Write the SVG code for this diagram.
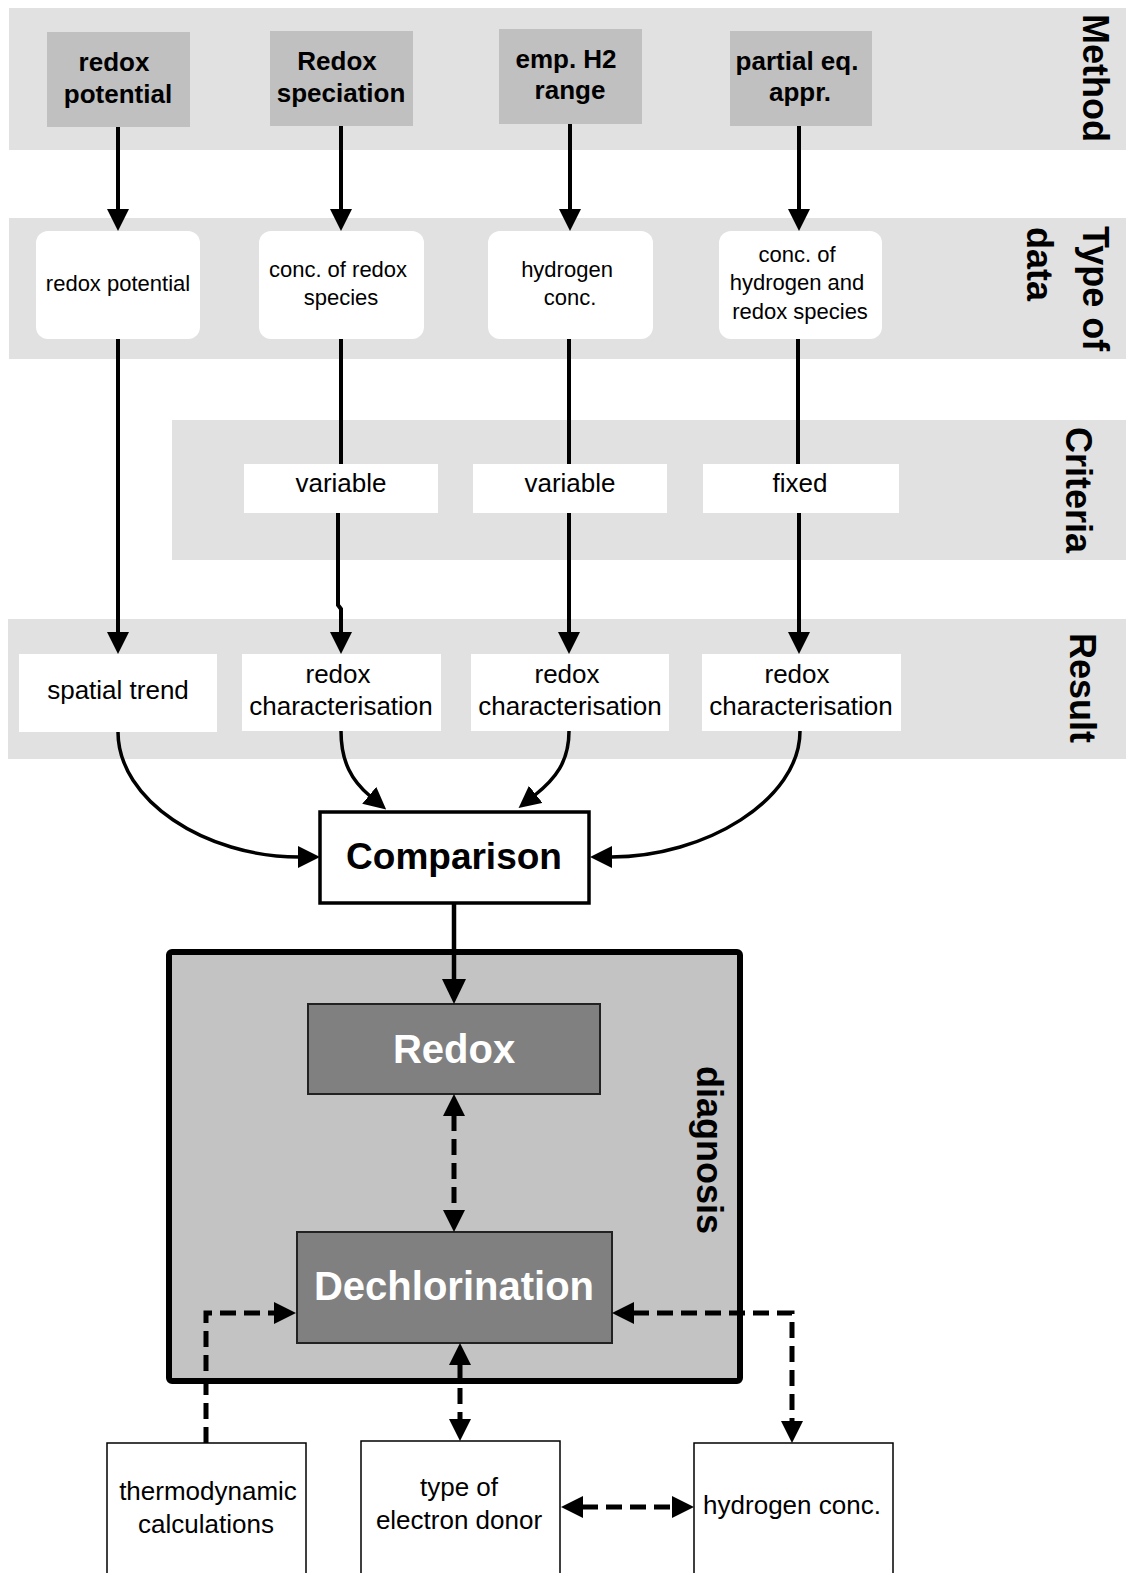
<svg xmlns="http://www.w3.org/2000/svg" width="1126" height="1573" viewBox="0 0 1126 1573">
<defs>
<style>
.band{fill:#e1e1e1}
.mbox{fill:#c0c0c0}
.wbox{fill:#fff}
.t{font-family:"Liberation Sans",Arial,sans-serif;fill:#000;text-anchor:middle}
.b{font-weight:bold}
.m{font-size:26px;font-weight:bold}
.s22{font-size:22px}
.s26{font-size:26px}
.lab{font-size:36px;font-weight:bold}
.line{stroke:#000;stroke-width:4;fill:none;marker-end:url(#ah)}
.plain{stroke:#000;stroke-width:4;fill:none}
.curve{stroke:#000;stroke-width:3.5;fill:none;marker-end:url(#ah)}
.dash{stroke:#000;stroke-width:5;fill:none;stroke-dasharray:16 8}
</style>
<marker id="ah" viewBox="0 0 22 22" refX="1" refY="11" markerWidth="22" markerHeight="22" markerUnits="userSpaceOnUse" orient="auto-start-reverse"><path d="M0,0 L22,11 L0,22 z" fill="#000"/></marker>
<marker id="ahL" viewBox="0 0 25 24" refX="1" refY="12" markerWidth="25" markerHeight="24" markerUnits="userSpaceOnUse" orient="auto-start-reverse"><path d="M0,0 L25,12 L0,24 z" fill="#000"/></marker>
</defs>
<rect width="1126" height="1573" fill="#fff"/>
<g id="bands">
<rect class="band" x="9" y="8" width="1117" height="142"/>
<rect class="band" x="9" y="218" width="1117" height="141"/>
<rect class="band" x="172" y="420" width="954" height="140"/>
<rect class="band" x="8" y="619" width="1118" height="140"/>
<text class="t lab" transform="translate(1083,78) rotate(90)">Method</text>
<text class="t lab" style="text-anchor:start" transform="translate(1083,226) rotate(90)">Type of</text>
<text class="t lab" style="text-anchor:start" transform="translate(1027,227) rotate(90)">data</text>
<text class="t lab" transform="translate(1066,490) rotate(90)">Criteria</text>
<text class="t lab" transform="translate(1070,688) rotate(90)">Result</text>
</g>
<g id="diagnosis">
<rect x="169" y="952" width="571" height="429" rx="3" fill="#c3c3c3" stroke="#000" stroke-width="6"/>
<text class="t lab" transform="translate(697,1150) rotate(90)">diagnosis</text>
</g>
<g id="m1"><rect class="mbox" x="47" y="32" width="143" height="95"/><text class="t m" x="114" y="71">redox</text><text class="t m" x="118" y="103">potential</text></g>
<g id="m2"><rect class="mbox" x="270" y="31" width="143" height="95"/><text class="t m" x="337" y="70">Redox</text><text class="t m" x="341" y="102">speciation</text></g>
<g id="m3"><rect class="mbox" x="499" y="29" width="143" height="95"/><text class="t m" x="566" y="68">emp. H2</text><text class="t m" x="570" y="99">range</text></g>
<g id="m4"><rect class="mbox" x="730" y="31" width="142" height="95"/><text class="t m" x="797" y="70">partial eq.</text><text class="t m" x="800" y="101">appr.</text></g>
<g id="d1"><rect class="wbox" x="36" y="231" width="164" height="108" rx="12"/><text class="t s22" x="118" y="291">redox potential</text></g>
<g id="d2"><rect class="wbox" x="259" y="231" width="165" height="108" rx="12"/><text class="t s22" x="338" y="277">conc. of redox</text><text class="t s22" x="341" y="305">species</text></g>
<g id="d3"><rect class="wbox" x="488" y="231" width="165" height="108" rx="12"/><text class="t s22" x="567" y="277">hydrogen</text><text class="t s22" x="570" y="305">conc.</text></g>
<g id="d4"><rect class="wbox" x="719" y="231" width="163" height="108" rx="12"/><text class="t s22" x="797" y="262">conc. of</text><text class="t s22" x="797" y="290">hydrogen and</text><text class="t s22" x="800" y="319">redox species</text></g>
<g id="c1"><rect class="wbox" x="244" y="464" width="194" height="49"/><text class="t s26" x="341" y="492">variable</text></g>
<g id="c2"><rect class="wbox" x="473" y="464" width="194" height="49"/><text class="t s26" x="570" y="492">variable</text></g>
<g id="c3"><rect class="wbox" x="703" y="464" width="196" height="49"/><text class="t s26" x="800" y="492">fixed</text></g>
<g id="r1"><rect class="wbox" x="19" y="654" width="198" height="78"/><text class="t s26" x="118" y="699">spatial trend</text></g>
<g id="r2"><rect class="wbox" x="242" y="654" width="199" height="77"/><text class="t s26" x="338" y="683">redox</text><text class="t s26" x="341" y="715">characterisation</text></g>
<g id="r3"><rect class="wbox" x="471" y="654" width="198" height="77"/><text class="t s26" x="567" y="683">redox</text><text class="t s26" x="570" y="715">characterisation</text></g>
<g id="r4"><rect class="wbox" x="702" y="654" width="199" height="77"/><text class="t s26" x="797" y="683">redox</text><text class="t s26" x="801" y="715">characterisation</text></g>
<g id="comparison"><rect x="320" y="812" width="269" height="91" fill="#fff" stroke="#000" stroke-width="3.5"/><text class="t b" style="font-size:37px" x="454" y="869">Comparison</text></g>
<g id="redox"><rect x="308" y="1004" width="292" height="90" fill="#808080" stroke="#222" stroke-width="2"/><text class="t b" style="font-size:40px;fill:#fff" x="454" y="1063">Redox</text></g>
<g id="dechlorination"><rect x="297" y="1232" width="315" height="111" fill="#808080" stroke="#222" stroke-width="2"/><text class="t b" style="font-size:40px;fill:#fff" x="454" y="1300">Dechlorination</text></g>
<g id="thermo"><rect x="107" y="1443" width="199" height="140" fill="#fff" stroke="#000" stroke-width="1.5"/><text class="t s26" x="208" y="1500">thermodynamic</text><text class="t s26" x="206" y="1533">calculations</text></g>
<g id="donor"><rect x="361" y="1441" width="199" height="140" fill="#fff" stroke="#000" stroke-width="1.5"/><text class="t s26" x="459" y="1496">type of</text><text class="t s26" x="459" y="1529">electron donor</text></g>
<g id="hydrogen"><rect x="694" y="1443" width="199" height="140" fill="#fff" stroke="#000" stroke-width="1.5"/><text class="t s26" x="792" y="1514">hydrogen conc.</text></g>
<g id="connectors">
<path class="line" d="M118,127 V210"/>
<path class="line" d="M341,126 V210"/>
<path class="line" d="M570,124 V210"/>
<path class="line" d="M799,126 V210"/>
<path class="line" d="M118,339 V633"/>
<path class="plain" d="M341,339 V464"/>
<path class="plain" d="M569,339 V464"/>
<path class="plain" d="M798,339 V464"/>
<path class="line" d="M338,513 V605 L341,609 V633"/>
<path class="line" d="M569,513 V633"/>
<path class="line" d="M799,513 V633"/>
<path class="curve" d="M118,732 C118,800 205,857 299,857"/>
<path class="curve" d="M341,731 C341,762 352,781 370,796"/>
<path class="curve" d="M569,731 C569,762 555,779 535,795"/>
<path class="curve" d="M800,731 C800,800 705,857 611,857"/>
<path d="M454,903 V980" stroke="#000" stroke-width="4.5" fill="none" marker-end="url(#ahL)"/>
<path class="dash" d="M454,1115 V1211" marker-start="url(#ah)" marker-end="url(#ah)"/>
<path class="dash" d="M206,1443 V1313 H275" marker-end="url(#ah)"/>
<path class="dash" d="M460,1364 V1420" marker-start="url(#ah)" marker-end="url(#ah)"/>
<path class="dash" d="M633,1313 H792 V1422" marker-start="url(#ah)" marker-end="url(#ah)"/>
<path class="dash" d="M582,1507 H673" marker-start="url(#ah)" marker-end="url(#ah)"/>
</g>
</svg>
